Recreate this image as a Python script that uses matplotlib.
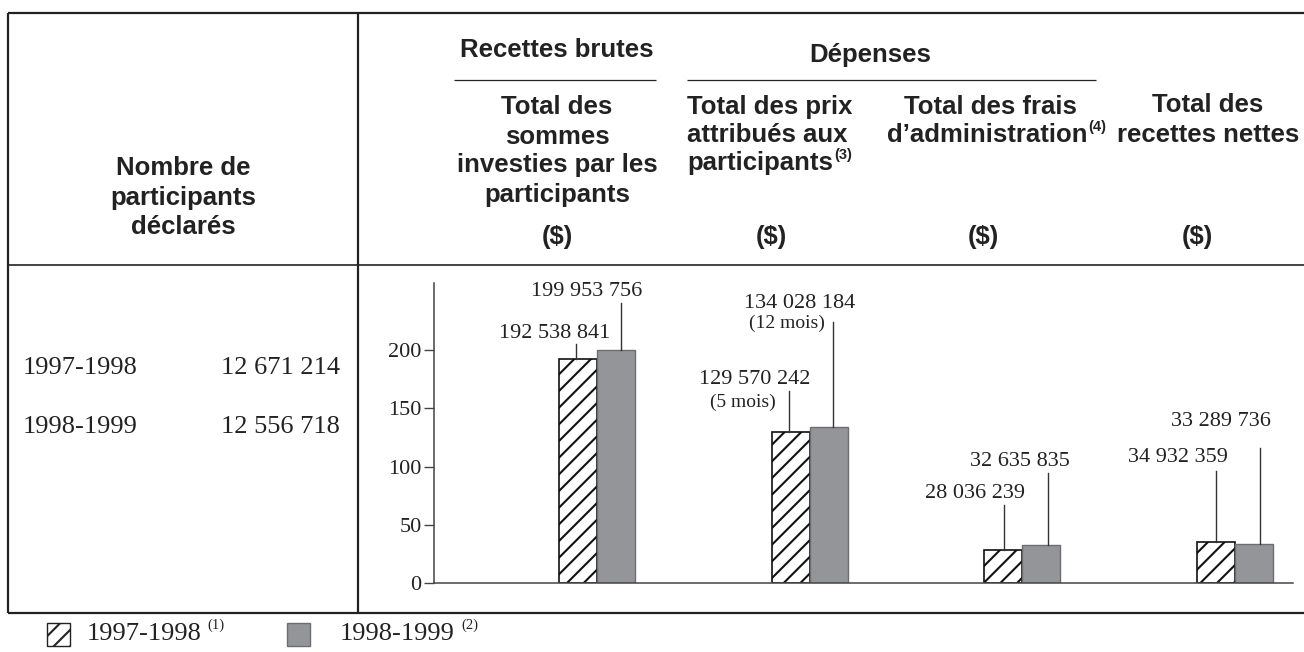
import matplotlib
matplotlib.use("Agg")
import matplotlib.pyplot as plt
from matplotlib.lines import Line2D
from matplotlib.patches import Rectangle

# Données (en dollars)
periodes = ['1997-1998', '1998-1999']
participants = [12671214, 12556718]
colonnes = ['Total des sommes investies', 'Total des prix attribués',
            'Total des frais d\'administration', 'Total des recettes nettes']
val_9798 = [192538841, 129570242, 28036239, 34932359]
val_9899 = [199953756, 134028184, 32635835, 33289736]
note_9798 = ['', '(5 mois)', '', '']
note_9899 = ['', '(12 mois)', '', '']
yticks = [0, 50, 100, 150, 200]
renvois = ['(1)', '(2)']

W, H = 1304, 652
SANS = 'Liberation Sans'
SERIF = 'Liberation Serif'
GRIS = '#939598'
GRIS_BORD = '#6d6e71'

plt.rcParams['hatch.linewidth'] = 1.5


def fx(px):
    return px / W


def fy(py):
    return 1 - py / H


def fmt(v):
    return f"{v:,}".replace(',', ' ')


fig = plt.figure(figsize=(13.04, 6.52), dpi=100)

# Axes du graphique (en pixels: x 434-1293, y 283-583)
AX_L, AX_R, AX_T, AX_B = 434, 1293, 283, 583
G0, SP = 597, 212.7
YMAX = (AX_B - AX_T) / 1.165


def px2d(px):
    return (px - G0) / SP


def py2d(py):
    return (AX_B - py) / 1.165


ax = fig.add_axes([fx(AX_L), fy(AX_B), fx(AX_R) - fx(AX_L), fy(AX_T) - fy(AX_B)])
ax.set_xlim(px2d(AX_L), px2d(AX_R))
ax.set_ylim(0, YMAX)

w = 38 / SP
x = list(range(len(colonnes)))
h1 = [v / 1e6 for v in val_9798]
h2 = [v / 1e6 for v in val_9899]
ax.bar([i - w / 2 for i in x], h1, width=w, facecolor='white', edgecolor='#111111',
       hatch='//', linewidth=1.2, zorder=2)
ax.bar([i + w / 2 for i in x], h2, width=w, facecolor=GRIS, edgecolor=GRIS_BORD,
       linewidth=1.0, zorder=2)

for s in ['top', 'right']:
    ax.spines[s].set_visible(False)
for s in ['left', 'bottom']:
    ax.spines[s].set_color('#444444')
    ax.spines[s].set_linewidth(1.1)
ax.spines['bottom'].set_zorder(3)
ax.set_xticks([])
ax.set_yticks(yticks)
ax.tick_params(axis='y', direction='out', length=7, width=1.0, color='#444444',
               labelsize=16, pad=2)
for t in ax.get_yticklabels():
    t.set_fontfamily(SERIF)
    t.set_color('#222222')

# Étiquettes des valeurs: (x texte, y texte, haut du trait, x trait) en pixels
pos_9798 = [(555, 334, 344, 576), (755, 379, 391, 789),
            (975, 493, 505, 1004), (1178, 458, 471, 1216)]
pos_9899 = [(587, 291, 303, 621), (800, 303, 322, 833),
            (1020, 462, 473, 1048), (1221, 422, 448, 1260)]
pos_note = [None, (743, 402), None, None]
pos_note2 = [None, (787, 323), None, None]

for vals, hs, pos, notes, npos in [(val_9798, h1, pos_9798, note_9798, pos_note),
                                  (val_9899, h2, pos_9899, note_9899, pos_note2)]:
    for i, v in enumerate(vals):
        tx, ty, top, lx = pos[i]
        ax.plot([px2d(lx), px2d(lx)], [hs[i], py2d(top)], color='#333333', lw=1.0,
                zorder=3)
        fig.text(fx(tx), fy(ty), fmt(v), ha='center', va='center', family=SERIF,
                 fontsize=16, color='#222222')
        if notes[i]:
            nx, ny = npos[i]
            fig.text(fx(nx), fy(ny), notes[i], ha='center', va='center', family=SERIF,
                     fontsize=14, color='#222222')

# Cadre du tableau
def ligne(x0, y0, x1, y1, lw=1.5, color='#222222'):
    fig.add_artist(Line2D([fx(x0), fx(x1)], [fy(y0), fy(y1)], lw=lw, color=color,
                          solid_capstyle='butt'))


ligne(8, 13, W, 13, lw=1.6)
ligne(8, 13, 8, 613, lw=1.6)
ligne(8, 613, W, 613, lw=1.6)
ligne(358, 13, 358, 613, lw=1.6)
ligne(8, 265, W, 265, lw=1.2)
ligne(454, 80, 656, 80, lw=0.9)
ligne(687, 80, 1096, 80, lw=0.9)


def texte(px, py, s, ha='center', size=18.5, bold=True, family=SANS):
    return fig.text(fx(px), fy(py), s, ha=ha, va='center', family=family,
                    fontsize=size, fontweight='bold' if bold else 'normal',
                    color='#222222')


# En-têtes
texte(557, 50, 'Recettes brutes')
texte(870, 55, 'Dépenses')
for s, y in zip(['Total des', 'sommes', 'investies par les', 'participants'],
                [107, 137, 165, 195]):
    texte(557, y, s)
for s, y in zip(['Nombre de', 'participants', 'déclarés'], [168, 198, 227]):
    texte(183, y, s)
texte(687, 107, 'Total des prix', ha='left')
texte(687, 135, 'attribués aux', ha='left')
t3 = texte(687, 163, 'participants', ha='left')
texte(990, 107, 'Total des frais')
t4 = texte(987, 135, 'd\u2019administration')
texte(1208, 105, 'Total des')
texte(1208, 135, 'recettes nettes')
for xp in [557, 771, 983, 1197]:
    texte(xp, 237, '($)')

# Lignes des périodes
for p, n, y in zip(periodes, participants, [368, 427]):
    texte(23, y, p, ha='left', size=19, bold=False, family=SERIF)
    texte(340, y, fmt(n), ha='right', size=19, bold=False, family=SERIF)

# Légende
fig.patches.append(Rectangle((fx(47), fy(646)), fx(23), 23 / H, transform=fig.transFigure,
                             facecolor='white', edgecolor='#222222', hatch='//',
                             lw=1.0))
fig.patches.append(Rectangle((fx(287), fy(646)), fx(23), 23 / H, transform=fig.transFigure,
                             facecolor=GRIS, edgecolor=GRIS_BORD, lw=1.0))
l1 = texte(87, 634, periodes[0], ha='left', size=19, bold=False, family=SERIF)
l2 = texte(340, 634, periodes[1], ha='left', size=19, bold=False, family=SERIF)

# Renvois en exposant, placés après le texte
fig.canvas.draw()
r = fig.canvas.get_renderer()
for t, s, dy, fam, b in [(t3, '(3)', -8, SANS, True), (t4, '(4)', -8, SANS, True),
                         (l1, renvois[0], -9, SERIF, False),
                         (l2, renvois[1], -9, SERIF, False)]:
    bb = t.get_window_extent(r)
    x1 = bb.x1 + (1 if b else 6)
    yc = H - (bb.y0 + bb.y1) / 2 + dy
    fig.text(fx(x1), fy(yc), s, ha='left', va='center', family=fam, fontsize=10.5,
             fontweight='bold' if b else 'normal', color='#222222')

fig.savefig('out.png', dpi=100)
